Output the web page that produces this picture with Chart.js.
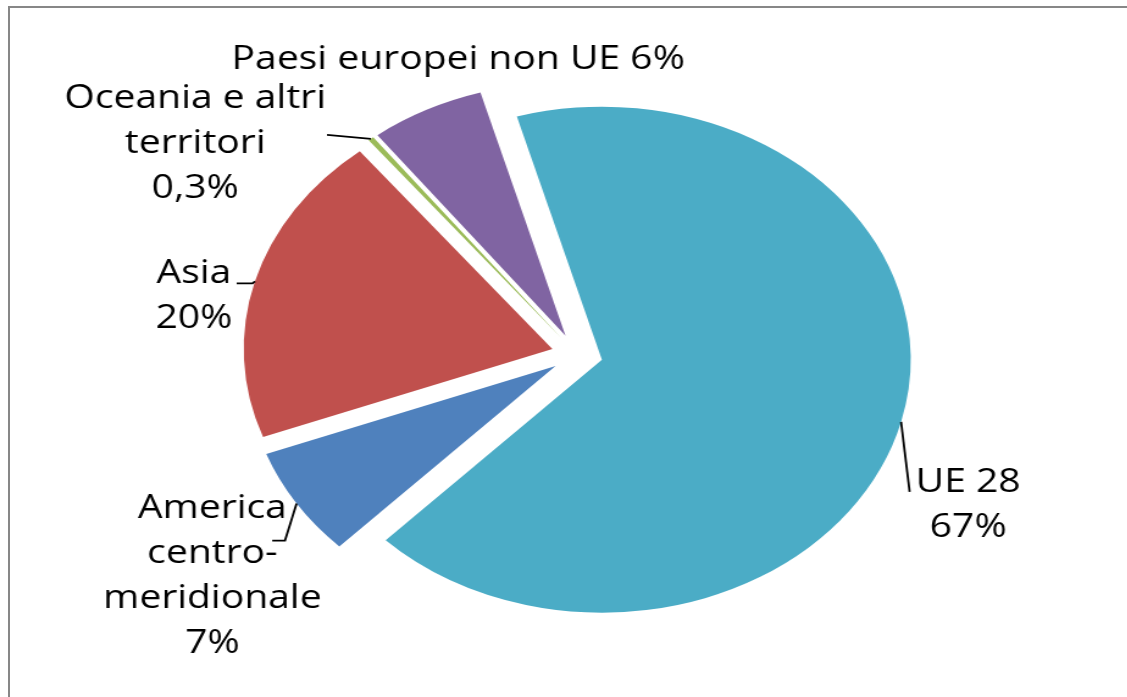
<!DOCTYPE html>
<html>
<head>
<meta charset="utf-8">
<script src="https://cdn.jsdelivr.net/npm/chart.js@4.4.0/dist/chart.umd.min.js"></script>
<style>
    html, body { margin: 0; padding: 0; background: #fff; overflow: hidden; }
    #cornice { position: absolute; left: 8px; top: 6px; width: 1119px; height: 691px;
               border-top: 2px solid #878787; border-left: 2px solid #878787; }
    /* il grafico originale e' stirato in orizzontale */
    #contenitore { position: absolute; left: 0; top: 0; width: 924px; height: 697px;
                   transform: scaleX(1.22); transform-origin: 0 0; }
</style>
</head>
<body>
<div id="cornice"></div>
<div id="contenitore"><canvas id="torta" width="924" height="697"></canvas></div>
<script>
var aree = ["UE 28", "America centro-meridionale", "Asia", "Oceania e altri territori", "Paesi europei non UE"];
var quote = [67, 7, 20, 0.3, 6];
var etichette = [
    ["UE 28", "67%"],
    ["America", "centro-", "meridionale", "7%"],
    ["Asia", "20%"],
    ["Oceania e altri", "territori", "0,3%"],
    ["Paesi europei non UE 6%"]
];
var colori = ["#4BACC6", "#4F81BD", "#C0504D", "#9BBB59", "#8064A2"];

// posizione delle etichette rispetto al bordo della fetta (punto medio)
var posizioni = [
    {dx: 55, dy: 70, linea: [[0, 0], [7, 70]]},
    {dx: -69, dy: 14, linea: [[0, 0], [-9.5, 37], [-20, 37]]},
    {dx: -50, dy: 2, linea: [[0, 0], [-2, 2], [-15, 2]]},
    {dx: -144, dy: -31, linea: [[0, 0], [-36, -4]]},
    {dx: 26, dy: -41, linea: []}
];

// fette staccate tutte della stessa distanza (l'offset di Chart.js allarga anche il raggio)
var stacco = 21;
var pluginStacco = {
    id: "stacco",
    afterDatasetUpdate: function (chart, args) {
        args.meta.data.forEach(function (arc) {
            var medio = (arc.startAngle + arc.endAngle) / 2;
            arc.x += Math.cos(medio) * stacco;
            arc.y += Math.sin(medio) * stacco;
        });
    }
};

var pluginEtichette = {
    id: "etichette",
    afterDatasetsDraw: function (chart) {
        var ctx = chart.ctx;
        var meta = chart.getDatasetMeta(0);
        ctx.save();
        ctx.font = "32px 'Open Sans'";
        ctx.fillStyle = "#000";
        ctx.strokeStyle = "#000";
        ctx.lineWidth = 1.8;
        ctx.textAlign = "center";
        ctx.textBaseline = "alphabetic";
        meta.data.forEach(function (arc, i) {
            var medio = (arc.startAngle + arc.endAngle) / 2;
            var ax = arc.x + Math.cos(medio) * arc.outerRadius;
            var ay = arc.y + Math.sin(medio) * arc.outerRadius;
            var pos = posizioni[i];
            if (pos.linea.length > 1) {
                ctx.beginPath();
                pos.linea.forEach(function (pt, k) {
                    if (k === 0) {
                        ctx.moveTo(ax + pt[0], ay + pt[1]);
                    } else {
                        ctx.lineTo(ax + pt[0], ay + pt[1]);
                    }
                });
                ctx.stroke();
            }
            etichette[i].forEach(function (riga, k) {
                ctx.fillText(riga, ax + pos.dx, ay + pos.dy + k * 45);
            });
        });
        ctx.restore();
    }
};

new Chart(document.getElementById("torta"), {
    type: "pie",
    data: {
        labels: aree,
        datasets: [{
            data: quote,
            backgroundColor: colori,
            borderWidth: 0
        }]
    },
    options: {
        responsive: false,
        animation: false,
        events: [],
        rotation: -16,
        radius: 253,
        layout: {padding: {left: 22, top: 12, right: 0, bottom: 0}},
        plugins: {
            legend: {display: false},
            tooltip: {enabled: false}
        }
    },
    plugins: [pluginStacco, pluginEtichette]
});
</script>
</body>
</html>
